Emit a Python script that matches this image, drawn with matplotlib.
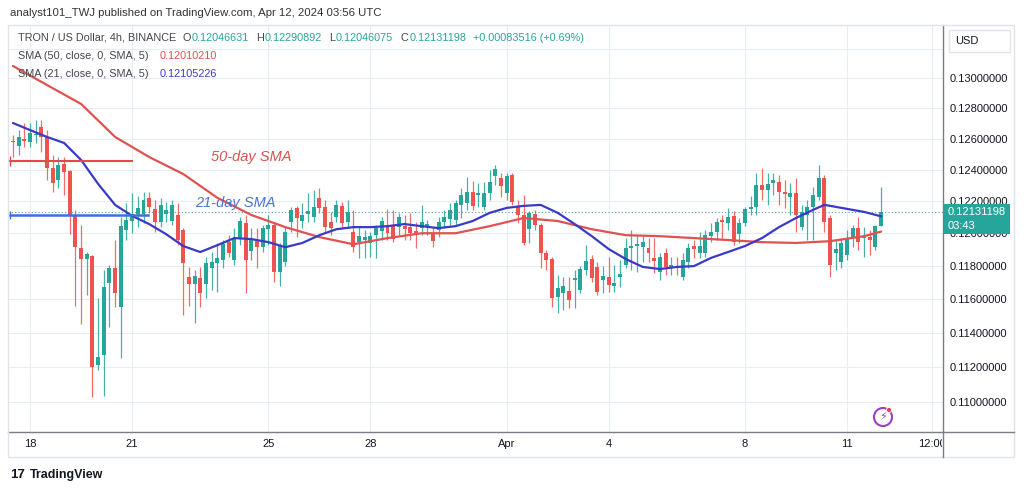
# TRON / US Dollar 4h candles with SMA 50 and SMA 21 (TradingView style)

import numpy as np
import matplotlib
matplotlib.use("Agg")
import matplotlib.pyplot as plt
from matplotlib.patches import Rectangle, Ellipse
from matplotlib.lines import Line2D
from matplotlib.ticker import FixedLocator, NullLocator, NullFormatter
from matplotlib.transforms import Bbox, TransformedBbox

plt.rcParams["font.family"] = ["Liberation Sans", "DejaVu Sans"]

# Data: one candle per 4 hours, index 0 = Mar 17 12:00
opens = [0.12585, 0.12554, 0.12596, 0.12581, 0.12623, 0.12680, 0.12612, 0.12409, 0.12335, 0.12436,
         0.12394, 0.12114, 0.11906, 0.11839, 0.11860, 0.11211, 0.11269, 0.11696, 0.11786, 0.11552,
         0.12019, 0.12076, 0.12120, 0.12120, 0.12221, 0.12152, 0.12070, 0.12120, 0.12076, 0.12114,
         0.12019, 0.11732, 0.11690, 0.11726, 0.11690, 0.11786, 0.11817, 0.11835, 0.11945, 0.11835,
         0.11964, 0.12063, 0.11890, 0.11958, 0.11914, 0.12025, 0.12051, 0.11762, 0.11823, 0.12070,
         0.12158, 0.12076, 0.12120, 0.12101, 0.12221, 0.12165, 0.12070, 0.12101, 0.12171, 0.12070,
         0.12006, 0.11945, 0.11958, 0.11940, 0.11988, 0.12013, 0.12044, 0.12051, 0.12038, 0.12044,
         0.12038, 0.12013, 0.12032, 0.12044, 0.12000, 0.12019, 0.12070, 0.12089, 0.12082, 0.12177,
         0.12190, 0.12259, 0.12240, 0.12165, 0.12253, 0.12361, 0.12348, 0.12253, 0.12367, 0.12165,
         0.12114, 0.12025, 0.12120, 0.12051, 0.11878, 0.11841, 0.11610, 0.11635, 0.11648, 0.11714,
         0.11654, 0.11775, 0.11841, 0.11793, 0.11714, 0.11732, 0.11678, 0.11732, 0.11805, 0.11908,
         0.11921, 0.11914, 0.11908, 0.11848, 0.11762, 0.11878, 0.11786, 0.11798, 0.11732, 0.11823,
         0.11921, 0.11878, 0.11878, 0.11982, 0.12006, 0.12082, 0.12063, 0.12108, 0.11994, 0.12063,
         0.12152, 0.12165, 0.12304, 0.12272, 0.12316, 0.12323, 0.12259, 0.12228, 0.12253, 0.12038,
         0.12114, 0.12165, 0.12228, 0.12348, 0.12095, 0.11878, 0.11823, 0.11866, 0.11970, 0.12032,
         0.11970, 0.11976, 0.11914, 0.12046631]
highs = [0.12623, 0.12659, 0.12701, 0.12701, 0.12722, 0.12722, 0.12659, 0.12495, 0.12484, 0.12484,
         0.12399, 0.12146, 0.12051, 0.11885, 0.11867, 0.11604, 0.11774, 0.11805, 0.11958, 0.12101,
         0.12190, 0.12253, 0.12234, 0.12259, 0.12259, 0.12209, 0.12221, 0.12196, 0.12209, 0.12190,
         0.12032, 0.11793, 0.11775, 0.11793, 0.11854, 0.11884, 0.11940, 0.11958, 0.11988, 0.12032,
         0.12101, 0.12114, 0.12032, 0.12032, 0.12051, 0.12114, 0.12063, 0.11940, 0.12044, 0.12165,
         0.12171, 0.12190, 0.12253, 0.12272, 0.12285, 0.12209, 0.12133, 0.12209, 0.12196, 0.12209,
         0.12146, 0.12038, 0.12019, 0.12006, 0.12051, 0.12101, 0.12152, 0.12146, 0.12127, 0.12114,
         0.12127, 0.12070, 0.12177, 0.12082, 0.12038, 0.12101, 0.12146, 0.12190, 0.12209, 0.12285,
         0.12354, 0.12329, 0.12316, 0.12323, 0.12399, 0.12431, 0.12380, 0.12380, 0.12380, 0.12209,
         0.12240, 0.12139, 0.12146, 0.12063, 0.11896, 0.11854, 0.11744, 0.11732, 0.11732, 0.11775,
         0.11798, 0.11926, 0.11866, 0.11823, 0.11798, 0.11854, 0.11805, 0.11835, 0.11970, 0.12019,
         0.11988, 0.11988, 0.11970, 0.11970, 0.11878, 0.11908, 0.11854, 0.11854, 0.11878, 0.11940,
         0.11958, 0.12006, 0.12019, 0.12063, 0.12095, 0.12114, 0.12158, 0.12139, 0.12095, 0.12165,
         0.12234, 0.12380, 0.12411, 0.12380, 0.12380, 0.12367, 0.12335, 0.12316, 0.12348, 0.12177,
         0.12209, 0.12291, 0.12431, 0.12367, 0.12114, 0.11958, 0.11970, 0.12019, 0.12051, 0.12101,
         0.12038, 0.12019, 0.12051, 0.12290892]
lows = [0.12482, 0.12495, 0.12545, 0.12549, 0.12573, 0.12515, 0.12335, 0.12261, 0.12283, 0.12240,
        0.11998, 0.11560, 0.11450, 0.11623, 0.11029, 0.11182, 0.11032, 0.11433, 0.11552, 0.11251,
        0.11957, 0.12000, 0.12038, 0.12063, 0.12127, 0.12006, 0.12038, 0.12070, 0.12051, 0.11926,
        0.11504, 0.11558, 0.11457, 0.11552, 0.11603, 0.11654, 0.11642, 0.11786, 0.11854, 0.11805,
        0.11926, 0.11635, 0.11835, 0.11786, 0.11884, 0.11926, 0.11702, 0.11678, 0.11798, 0.12006,
        0.11976, 0.12032, 0.12070, 0.12070, 0.12127, 0.12000, 0.11988, 0.12070, 0.12032, 0.12032,
        0.11884, 0.11848, 0.11848, 0.11854, 0.11848, 0.11958, 0.11958, 0.11945, 0.11988, 0.11958,
        0.11958, 0.11908, 0.11988, 0.11988, 0.11914, 0.11976, 0.12032, 0.12051, 0.12051, 0.12095,
        0.12146, 0.12146, 0.12165, 0.12146, 0.12209, 0.12304, 0.12228, 0.12209, 0.12177, 0.12063,
        0.11926, 0.11939, 0.12019, 0.11786, 0.11775, 0.11552, 0.11516, 0.11534, 0.11546, 0.11546,
        0.11635, 0.11744, 0.11702, 0.11623, 0.11635, 0.11642, 0.11642, 0.11672, 0.11786, 0.11775,
        0.11762, 0.11823, 0.11823, 0.11757, 0.11714, 0.11744, 0.11744, 0.11744, 0.11714, 0.11786,
        0.11848, 0.11848, 0.11854, 0.11945, 0.11958, 0.11958, 0.12019, 0.11926, 0.11939, 0.12044,
        0.12114, 0.12114, 0.12209, 0.12177, 0.12240, 0.12177, 0.12158, 0.12114, 0.12006, 0.12019,
        0.11958, 0.11958, 0.12209, 0.12006, 0.11730, 0.11775, 0.11786, 0.11835, 0.11914, 0.11896,
        0.11854, 0.11866, 0.11896, 0.12046075]
closes = [0.12579, 0.12609, 0.12587, 0.12636, 0.12630, 0.12612, 0.12409, 0.12314, 0.12431, 0.12388,
          0.12114, 0.11912, 0.11839, 0.11874, 0.11197, 0.11257, 0.11672, 0.11786, 0.11637, 0.12045,
          0.12082, 0.12120, 0.12158, 0.12209, 0.12165, 0.12070, 0.12177, 0.12146, 0.12177, 0.11957,
          0.11817, 0.11690, 0.11738, 0.11635, 0.11817, 0.11823, 0.11848, 0.11934, 0.11878, 0.11970,
          0.12076, 0.11835, 0.11964, 0.11914, 0.12032, 0.12051, 0.11762, 0.11921, 0.12006, 0.12146,
          0.12095, 0.12114, 0.12139, 0.12165, 0.12158, 0.12038, 0.12032, 0.12177, 0.12063, 0.12133,
          0.11914, 0.11982, 0.11976, 0.11982, 0.12032, 0.12076, 0.12000, 0.11964, 0.12101, 0.12025,
          0.12000, 0.11994, 0.12070, 0.12057, 0.11951, 0.12070, 0.12101, 0.12146, 0.12190, 0.12240,
          0.12259, 0.12171, 0.12253, 0.12253, 0.12323, 0.12405, 0.12297, 0.12361, 0.12196, 0.12114,
          0.11939, 0.12127, 0.12051, 0.11878, 0.11835, 0.11603, 0.11666, 0.11678, 0.11593, 0.11726,
          0.11780, 0.11829, 0.11726, 0.11642, 0.11738, 0.11684, 0.11696, 0.11750, 0.11908, 0.11921,
          0.11934, 0.11945, 0.11878, 0.11829, 0.11854, 0.11793, 0.11805, 0.11786, 0.11835, 0.11908,
          0.11902, 0.11921, 0.11988, 0.12006, 0.12070, 0.12070, 0.12101, 0.11945, 0.12063, 0.12152,
          0.12165, 0.12304, 0.12272, 0.12310, 0.12335, 0.12259, 0.12247, 0.12253, 0.12114, 0.12133,
          0.12165, 0.12240, 0.12348, 0.12070, 0.11805, 0.11902, 0.11940, 0.11970, 0.12032, 0.11945,
          0.11982, 0.11958, 0.12047, 0.12131198]

sma50_idx = [0, 6, 12, 18, 24, 30, 36, 42, 48, 54, 60, 66, 72, 78, 84, 90, 96, 102, 108, 114,
             120, 126, 132, 138, 144, 150, 153]
sma50_val = [0.13083, 0.12955, 0.12829, 0.12612, 0.12482, 0.12373, 0.12222, 0.12114, 0.12038, 0.11976,
             0.11932, 0.11970, 0.12000, 0.12000, 0.12044, 0.12095, 0.12076, 0.12025, 0.11988, 0.11982,
             0.11970, 0.11958, 0.11945, 0.11940, 0.11951, 0.11982, 0.12010210]
sma21_idx = [0, 3, 6, 9, 12, 15, 18, 21, 24, 27, 30, 33, 36, 39, 42, 45, 48, 51, 54, 57,
             60, 63, 66, 69, 72, 75, 78, 81, 84, 87, 90, 93, 96, 99, 102, 105, 108, 111, 114, 117,
             120, 123, 126, 129, 132, 135, 138, 141, 143, 144, 147, 150, 153]
sma21_val = [0.12703, 0.12657, 0.12612, 0.12573, 0.12463, 0.12310, 0.12177, 0.12108, 0.12057, 0.11994,
             0.11921, 0.11884, 0.11926, 0.11970, 0.11964, 0.11945, 0.11914, 0.11940, 0.11988, 0.12025,
             0.12038, 0.12038, 0.12044, 0.12057, 0.12044, 0.12032, 0.12044, 0.12076, 0.12127, 0.12158,
             0.12171, 0.12177, 0.12127, 0.12057, 0.11982, 0.11902, 0.11841, 0.11793, 0.11780, 0.11793,
             0.11798, 0.11848, 0.11884, 0.11921, 0.11970, 0.12038, 0.12095, 0.12146, 0.12177, 0.12171,
             0.12152, 0.12133, 0.12105226]

date_ticks = [3, 21, 45, 63, 87, 105, 129, 147, 162]
date_labels = ["18", "21", "25", "28", "Apr", "4", "8", "11", "12:00"]
price_ticks = [0.110, 0.112, 0.114, 0.116, 0.118, 0.120, 0.122, 0.124, 0.126, 0.128, 0.130]

# hand-drawn level lines and their labels
level_50 = 0.12456
level_21 = 0.12114

UP = "#26a69a"
DOWN = "#ef5350"
RED_SMA = "#e0524f"
BLUE_SMA = "#3a3ac8"
GRID = "#e9edf3"
AXIS = "#7b7e88"
TXT = "#434651"

W, H = 1024, 491


def fx(x):
    return x / W


def fy(y):
    return 1 - y / H


fig = plt.figure(figsize=(W / 100, H / 100), dpi=100)
fig.patch.set_facecolor("white")
renderer = fig.canvas.get_renderer()

ax = fig.add_axes([fx(8), fy(432), fx(943) - fx(8), fy(25) - fy(432)])
ax.set_yscale("log")
ax.set_xlim(-0.88, 163.9)
ax.set_ylim(0.10829, 0.13363)

# grid
for t in date_ticks:
    ax.axvline(t, color=GRID, lw=0.8, zorder=0)
for p in price_ticks + [0.132]:
    ax.axhline(p, color=GRID, lw=0.8, zorder=0)

# candles
o = np.array(opens)
h = np.array(highs)
l = np.array(lows)
c = np.array(closes)
x = np.arange(len(o))
cols = np.where(c >= o, UP, DOWN)
ax.vlines(x, l, h, colors=cols, lw=0.9, alpha=0.85, zorder=2)
bottoms = np.minimum(o, c)
heights = np.maximum(np.abs(c - o), 0.00005)
ax.bar(x, heights, 0.7, bottoms, color=cols, linewidth=0, zorder=3)

# moving averages
ax.plot(sma50_idx, sma50_val, color=RED_SMA, lw=1.6, zorder=4, solid_capstyle="round")
ax.plot(sma21_idx, sma21_val, color=BLUE_SMA, lw=1.6, zorder=5, solid_capstyle="round")

# last price dotted line
ax.axhline(closes[-1], color="#5b9bb0", lw=0.8, ls=(0, (1, 2)), zorder=1)

# analyst's level lines
ax.plot([-0.5, 21], [level_50, level_50], color="#e4484a", lw=1.5, zorder=6)
ax.plot([-0.5], [level_50], marker="|", ms=7, color="#e4484a", zorder=6)
ax.plot([-0.5, 23.8], [level_21, level_21], color="#3f6fd8", lw=1.8, zorder=6)
ax.plot([-0.5], [level_21], marker="|", ms=6, color="#3f6fd8", zorder=6)
ax.text(34.9, 0.12482, "50-day SMA", color="#d9534f", fontsize=10.5, style="italic",
        va="center", ha="left", zorder=7)
ax.text(32.1, 0.12189, "21-day SMA", color="#4a74d8", fontsize=10.5, style="italic",
        va="center", ha="left", zorder=7)

# axes styling
for side in ["top", "left"]:
    ax.spines[side].set_visible(False)
ax.spines["right"].set_color(AXIS)
ax.spines["bottom"].set_color(AXIS)
ax.spines["right"].set_linewidth(1)
ax.spines["bottom"].set_linewidth(1)

ax.yaxis.tick_right()
ax.yaxis.set_major_locator(FixedLocator(price_ticks))
ax.yaxis.set_minor_locator(NullLocator())
ax.yaxis.set_minor_formatter(NullFormatter())
ax.set_yticklabels(["%.8f" % p for p in price_ticks])
ax.tick_params(axis="y", length=0, pad=5, labelsize=8, labelcolor="#131722")
ax.set_xticks(date_ticks)
ax.set_xticklabels(date_labels)
ax.tick_params(axis="x", length=0, pad=5, labelsize=8, labelcolor="#131722")
clip = TransformedBbox(Bbox([[0, 0], [fx(942), 1]]), fig.transFigure)
for lab in ax.get_xticklabels():
    lab.set_clip_box(clip)
    lab.set_clip_on(True)

# outer frame of the chart panel
frame = Rectangle((fx(8), fy(457)), fx(1014) - fx(8), fy(25) - fy(457), transform=fig.transFigure,
                  fill=False, edgecolor="#e0e3eb", lw=1)
fig.add_artist(frame)
fig.add_artist(Line2D([fx(943), fx(943)], [fy(432), fy(457)], transform=fig.transFigure,
                      color=AXIS, lw=1))
fig.add_artist(Line2D([fx(943), fx(1014)], [fy(432), fy(432)], transform=fig.transFigure,
                      color=AXIS, lw=1))

# USD button
fig.add_artist(Rectangle((fx(949), fy(52)), fx(1010) - fx(949), fy(30) - fy(52),
                         transform=fig.transFigure, facecolor="white", edgecolor="#e0e3eb", lw=1))
fig.text(fx(955), fy(41), "USD", fontsize=8, color="#131722", va="center")

# last price label
fig.add_artist(Rectangle((fx(944), fy(234)), fx(1010) - fx(944), fy(204) - fy(234),
                         transform=fig.transFigure, facecolor=UP, edgecolor="none"))
fig.text(fx(948), fy(212), "%.8f" % closes[-1], fontsize=8, color="white", va="center")
fig.text(fx(948), fy(226), "03:43", fontsize=8, color="white", va="center")

# header and legend
fig.text(fx(10), fy(13), "analyst101_TWJ published on TradingView.com, Apr 12, 2024 03:56 UTC",
         fontsize=8.2, color="#333333", va="center")

# legend row: pieces laid out one after another (text, colour, gap after it in px)
row = [("TRON / US Dollar, 4h, BINANCE", TXT, 6),
       ("O", TXT, 1), ("%.8f" % opens[-1], UP, 7),
       ("H", TXT, 1), ("%.8f" % highs[-1], UP, 7),
       ("L", TXT, 1), ("%.8f" % lows[-1], UP, 7),
       ("C", TXT, 1), ("%.8f" % closes[-1], UP, 7),
       ("+0.00083516 (+0.69%)", UP, 0)]
px = 18
for txt, col, gap in row:
    t = fig.text(fx(px), fy(38), txt, fontsize=7.8, color=col, va="center")
    px += t.get_window_extent(renderer).width + gap

fig.text(fx(18), fy(56), "SMA (50, close, 0, SMA, 5)", fontsize=7.8, color=TXT, va="center")
fig.text(fx(160), fy(56), "%.8f" % sma50_val[-1], fontsize=7.8, color=RED_SMA, va="center")
fig.text(fx(18), fy(74), "SMA (21, close, 0, SMA, 5)", fontsize=7.8, color=TXT, va="center")
fig.text(fx(160), fy(74), "%.8f" % sma21_val[-1], fontsize=7.8, color=BLUE_SMA, va="center")

# lightning icon
fig.add_artist(Ellipse((fx(883), fy(417)), 18 / W, 18 / H, transform=fig.transFigure, fill=False,
                       edgecolor="#9c3fc6", lw=1.5))
fig.text(fx(883), fy(417), "\u26a1", fontsize=8, color="#9c3fc6", ha="center", va="center",
         family="DejaVu Sans")
fig.add_artist(Ellipse((fx(889), fy(410)), 5 / W, 5 / H, transform=fig.transFigure,
                       facecolor="#f23645", edgecolor="white", lw=0.6))

# footer logo
fig.text(fx(10), fy(475), "17", fontsize=9.5, fontweight="bold", color="#131722", va="center")
fig.text(fx(30), fy(475), "TradingView", fontsize=9, fontweight="bold", color="#131722", va="center")

fig.savefig("out.png", dpi=100)
